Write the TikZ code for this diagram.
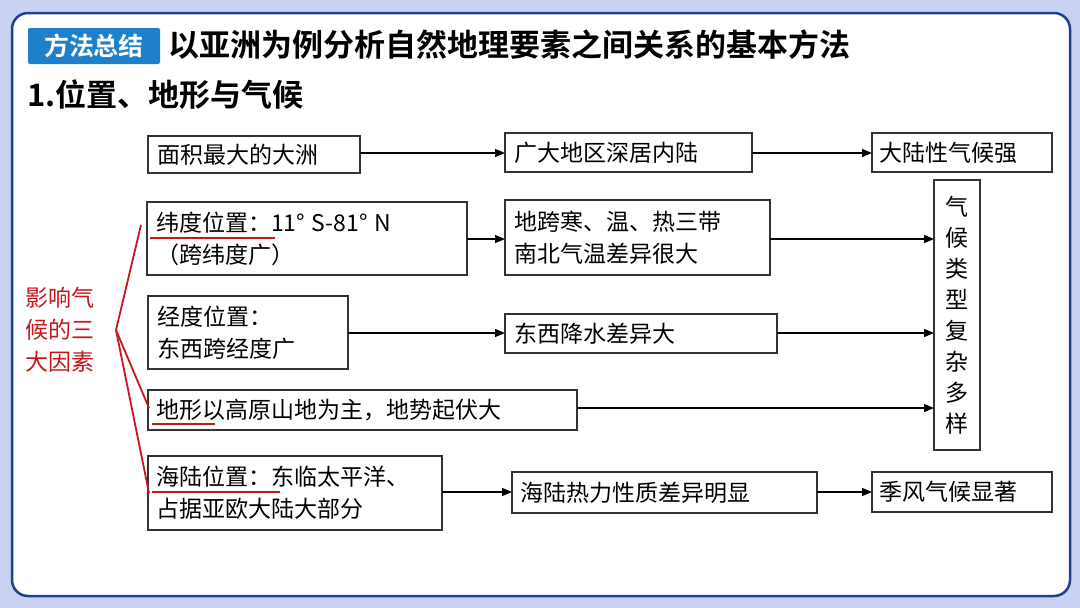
\documentclass[tikz,border=0pt]{standalone}
\usepackage{fontspec}
\setmainfont{Noto Sans CJK SC}
\newfontfamily\cjkb{Noto Sans CJK SC Bold}
\usetikzlibrary{arrows.meta}
\definecolor{bgblue}{HTML}{C9D2F3}
\definecolor{frameblue}{HTML}{1F3F8F}
\definecolor{tagblue}{HTML}{1E7FCB}
\definecolor{redline}{HTML}{C8161D}
\tikzset{
  x=1pt,y=-1pt,
  bx/.style={draw=black!80,line width=1.2pt,inner sep=0pt,anchor=north west},
  txt/.style={font=\fontsize{23}{32}\selectfont,align=left,anchor=west,inner sep=0pt},
  arr/.style={-{Triangle[length=10pt,width=8pt]},line width=1.2pt},
  red/.style={draw=redline,line width=1.8pt}
}
\begin{document}
\begin{tikzpicture}
\useasboundingbox (0,0) rectangle (1080,608);
\fill[bgblue] (0,0) rectangle (1080,608);
\draw[frameblue,line width=2.5pt,fill=white,rounded corners=16pt] (12,13) rectangle (1070,596);
\node[fill=tagblue,rounded corners=2pt,minimum width=132pt,minimum height=36pt,inner sep=0pt,text=white,font=\cjkb\fontsize{25}{26}\selectfont] (tag) at (94,46) {方法总结};
\node[anchor=west,font=\cjkb\fontsize{31}{32}\selectfont,inner sep=0pt] (title) at (168,45) {以亚洲为例分析自然地理要素之间关系的基本方法};
\node[anchor=west,font=\cjkb\fontsize{31}{32}\selectfont,inner sep=0pt] (sub) at (27,95) {1.位置、地形与气候};
% boxes
\draw[bx] (148,136) rectangle (360,173);
\node[txt] (t1) at (157,154.5) {面积最大的大洲};
\draw[bx] (505,133) rectangle (752,172);
\node[txt] (t2) at (514,152.5) {广大地区深居内陆};
\draw[bx] (872,133) rectangle (1052,172);
\node[txt] (t3) at (879,152.5) {大陆性气候强};
\draw[bx] (147,202) rectangle (467,275);
\node[txt] (t4) at (156,239) {纬度位置：11°\;S-81°\;N\\（跨纬度广）};
\draw[bx] (505,200) rectangle (770,275);
\node[txt] (t5) at (514,238) {地跨寒、温、热三带\\南北气温差异很大};
\draw[bx] (148,296) rectangle (348,369);
\node[txt] (t6) at (157,333) {经度位置：\\东西跨经度广};
\draw[bx] (505,314) rectangle (777,353);
\node[txt] (t7) at (514,333.5) {东西降水差异大};
\draw[bx] (148,390) rectangle (577,430);
\node[txt] (t8) at (156,410) {地形以高原山地为主，地势起伏大};
\draw[bx] (148,456) rectangle (442,530);
\node[txt] (t9) at (156,493) {海陆位置：东临太平洋、\\占据亚欧大陆大部分};
\draw[bx] (512,472) rectangle (817,513);
\node[txt] (t10) at (520,492.5) {海陆热力性质差异明显};
\draw[bx] (872,472) rectangle (1052,512);
\node[txt] (t11) at (879,492) {季风气候显著};
\draw[bx] (934,180) rectangle (980,450);
\node[font=\fontsize{23}{31}\selectfont,align=center,inner sep=0pt] (v) at (957,315) {气\\候\\类\\型\\复\\杂\\多\\样};
% arrows
\draw[arr] (360,153) -- (505,153);
\draw[arr] (752,153) -- (872,153);
\draw[arr] (467,239) -- (505,239);
\draw[arr] (770,239) -- (934,239);
\draw[arr] (348,333) -- (505,333);
\draw[arr] (777,333) -- (934,333);
\draw[arr] (577,408) -- (934,408);
\draw[arr] (442,492) -- (512,492);
\draw[arr] (817,492) -- (872,492);
% red part
\node[text=redline,font=\fontsize{23}{32}\selectfont,align=left,inner sep=0pt] (lab) at (60,330) {影响气\\候的三\\大因素};
\coordinate (apex) at (116,330);
\draw[red] (141,225) -- (apex) -- (149,408);
\draw[red] (apex) -- (149,493);
\draw[red] (150,238) -- (275,238);
\draw[red] (152,424) -- (215,424);
\draw[red] (152,492) -- (280,492);
\end{tikzpicture}
\end{document}
